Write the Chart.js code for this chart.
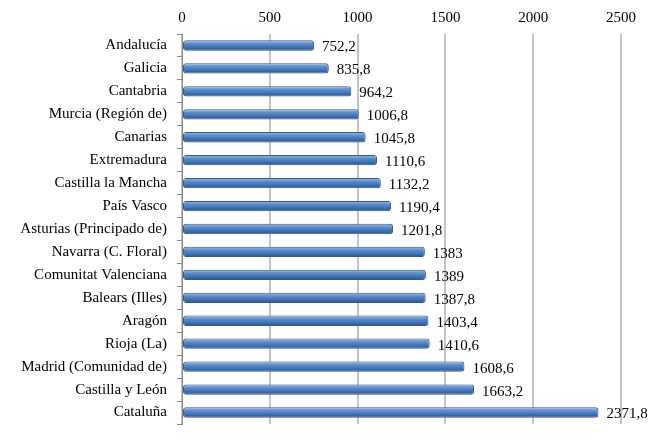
<!DOCTYPE html>
<html lang="es">
<head>
    <meta charset="UTF-8">
    <title>Comunidades</title>
    <script src="https://cdn.jsdelivr.net/npm/chart.js@4.4.0/dist/chart.umd.min.js"></script>
    <style>
        html, body { margin: 0; padding: 0; background: #fff; }
        #wrap { position: relative; width: 664px; height: 440px; }
    </style>
</head>
<body>
    <div id="wrap"><canvas id="chart"></canvas></div>

    <script>
        // datos
        const regions = [
            'Andalucía', 'Galicia', 'Cantabria', 'Murcia (Región de)', 'Canarias',
            'Extremadura', 'Castilla la Mancha', 'País Vasco', 'Asturias (Principado de)',
            'Navarra (C. Floral)', 'Comunitat Valenciana', 'Balears (Illes)', 'Aragón',
            'Rioja (La)', 'Madrid (Comunidad de)', 'Castilla y León', 'Cataluña'
        ];
        const values = [
            752.2, 835.8, 964.2, 1006.8, 1045.8, 1110.6, 1132.2, 1190.4, 1201.8,
            1383, 1389, 1387.8, 1403.4, 1410.6, 1608.6, 1663.2, 2371.8
        ];
        const axisMax = 2500;
        const axisStep = 500;

        const serif = '"Liberation Serif", "Times New Roman", serif';

        // degradado vertical para cada barra
        function barGradient(ctx) {
            const chart = ctx.chart;
            const y = chart.scales.y;
            if (!chart.chartArea || !y || ctx.dataIndex === undefined) return '#4f81bd';
            const c = y.getPixelForValue(ctx.dataIndex);
            const g = chart.ctx.createLinearGradient(0, c - 5, 0, c + 5);
            g.addColorStop(0, '#9dbbe3');
            g.addColorStop(0.35, '#5b8bc8');
            g.addColorStop(0.7, '#3f6fae');
            g.addColorStop(1, '#2a5488');
            return g;
        }

        // etiquetas al final de las barras
        const valueLabels = {
            id: 'valueLabels',
            afterDatasetsDraw(chart) {
                const ctx = chart.ctx;
                const meta = chart.getDatasetMeta(0);
                ctx.save();
                ctx.font = '15px ' + serif;
                ctx.fillStyle = '#000';
                ctx.textAlign = 'left';
                ctx.textBaseline = 'middle';
                meta.data.forEach((bar, i) => {
                    const txt = String(values[i]).replace('.', ',');
                    ctx.fillText(txt, bar.x + 8, bar.y + 2);
                });
                ctx.restore();
            }
        };

        new Chart(document.getElementById('chart'), {
            type: 'bar',
            data: {
                labels: regions,
                datasets: [{
                    data: values,
                    backgroundColor: barGradient,
                    borderColor: '#2f5a8e',
                    borderWidth: 1,
                    borderRadius: 3,
                    borderSkipped: false,
                    categoryPercentage: 1,
                    barPercentage: 0.45
                }]
            },
            options: {
                indexAxis: 'y',
                responsive: true,
                maintainAspectRatio: false,
                animation: false,
                layout: { padding: { left: 4, right: 43, top: 3, bottom: 16 } },
                plugins: {
                    legend: { display: false },
                    tooltip: { enabled: false }
                },
                scales: {
                    x: {
                        position: 'top',
                        min: 0,
                        max: axisMax,
                        afterFit(scale) { scale.height = 31; },
                        ticks: {
                            stepSize: axisStep,
                            color: '#000',
                            padding: 7,
                            font: { family: serif, size: 15 },
                            callback: v => String(v)
                        },
                        grid: {
                            color: '#c4c4c4',
                            lineWidth: 2,
                            drawTicks: false
                        },
                        border: { display: false }
                    },
                    y: {
                        afterFit(scale) {
                            scale.width = 178;
                            scale.paddingTop = 0;
                            scale.paddingBottom = 0;
                        },
                        ticks: {
                            color: '#000',
                            padding: 10,
                            font: { family: serif, size: 15 }
                        },
                        grid: {
                            display: true,
                            drawOnChartArea: false,
                            offset: true,
                            color: '#888',
                            tickLength: 5
                        },
                        border: { display: true, color: '#888' }
                    }
                }
            },
            plugins: [valueLabels]
        });
    </script>
</body>
</html>
